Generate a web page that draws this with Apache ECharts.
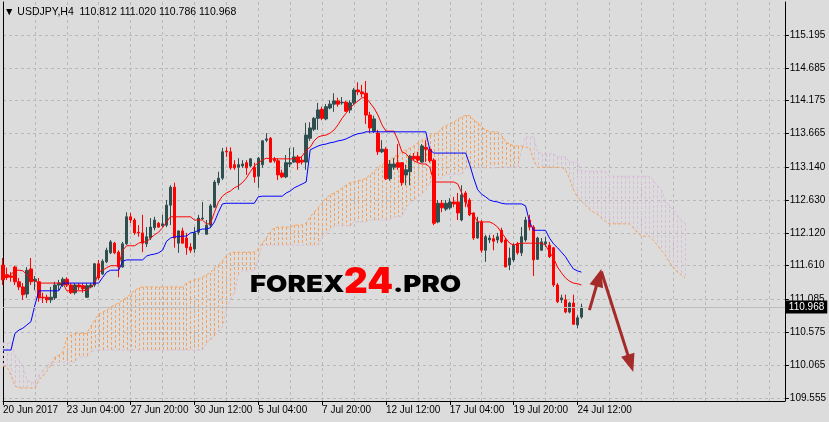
<!DOCTYPE html>
<html>
<head>
<meta charset="utf-8">
<script src="https://cdn.jsdelivr.net/npm/echarts@6.0.0/dist/echarts.min.js"></script>
<style>
html,body{margin:0;padding:0;background:#dcdcdc;overflow:hidden;}
#chart{width:829px;height:422px;}
</style>
</head>
<body>
<div id="chart"></div>
<script>
// ---------------- DATA ----------------
const symbolTitle = 'USDJPY,H4';
const lastOHLC = [110.812, 111.020, 110.786, 110.968]; // O H L C of last bar

const xTickIndex = [0, 16, 32, 48, 64, 80, 96, 112, 128, 144];
const xTickLabels = ['20 Jun 2017', '23 Jun 04:00', '27 Jun 20:00', '30 Jun 12:00', '5 Jul 04:00',
  '7 Jul 20:00', '12 Jul 12:00', '17 Jul 04:00', '19 Jul 20:00', '24 Jul 12:00'];

const yTickValues = [109.555, 110.065, 110.575, 111.085, 111.610, 112.120, 112.630, 113.140,
  113.665, 114.175, 114.685, 115.195];

const openP = [111.62,111.47,111.45,111.59,111.36,111.28,111.17,111.56,111.37,111.36,
 111.12,111.12,111.08,111.11,111.31,111.31,111.40,111.31,111.19,111.31,
 111.30,111.12,111.28,111.31,111.64,111.48,111.67,111.81,111.96,111.82,
 111.59,111.95,112.37,112.32,112.13,112.12,111.95,112.04,112.20,112.27,
 112.23,112.24,112.55,112.83,111.96,112.15,112.04,111.90,111.87,112.13,
 112.34,112.10,112.24,112.52,112.90,112.97,113.39,113.38,113.18,113.14,
 113.16,113.21,113.16,113.14,113.00,113.18,113.56,113.59,113.27,113.24,
 113.05,112.99,113.19,113.22,113.30,113.25,113.22,113.59,113.73,113.90,
 114.04,113.89,114.06,114.12,114.17,114.14,114.15,114.03,114.14,114.34,
 114.31,114.29,113.95,113.70,113.67,113.38,113.42,112.96,113.14,113.21,
 113.21,113.02,113.07,113.31,113.31,113.22,113.45,113.42,113.25,112.29,
 112.58,112.49,112.51,112.60,112.60,112.32,112.74,112.63,112.43,112.04,
 112.29,111.85,112.01,112.03,112.01,112.16,112.01,111.62,111.70,111.95,
 111.81,112.01,112.32,112.21,111.71,111.85,111.95,111.93,111.89,111.31,
 111.08,111.08,110.89,111.03,110.69,110.812];

const closeP = [111.39,111.43,111.43,111.36,111.28,111.16,111.54,111.36,111.40,111.11,
 111.11,111.08,111.12,111.31,111.34,111.40,111.31,111.19,111.31,111.28,
 111.25,111.30,111.31,111.64,111.42,111.68,111.85,111.98,111.81,111.59,
 111.95,112.37,112.32,112.12,112.12,111.96,112.06,112.21,112.32,112.21,
 112.26,112.55,112.83,112.04,112.15,111.96,111.89,111.85,112.12,112.35,
 112.35,112.24,112.54,112.91,112.97,113.38,113.38,113.13,113.13,113.18,
 113.19,113.13,113.27,112.99,113.28,113.55,113.58,113.22,113.24,113.02,
 112.99,113.21,113.21,113.30,113.21,113.22,113.64,113.75,113.90,114.03,
 113.90,114.08,114.12,114.17,114.12,114.15,114.01,114.14,114.34,114.31,
 114.28,113.95,113.75,113.89,113.38,113.42,112.96,113.19,113.19,113.14,
 112.90,113.10,113.31,113.27,113.25,113.47,113.42,113.24,112.27,112.58,
 112.51,112.58,112.60,112.57,112.43,112.71,112.60,112.40,112.04,112.29,
 111.85,112.06,112.04,111.99,112.06,111.98,111.59,111.73,111.93,111.81,
 112.06,112.32,112.21,111.70,112.04,111.98,111.98,111.75,111.31,111.05,
 111.11,110.89,111.03,110.70,110.80,110.968];

const lowP = [111.31,111.39,111.36,111.31,111.23,111.08,111.11,111.31,111.23,111.05,
 111.03,111.03,111.03,111.08,111.23,111.28,111.28,111.17,111.16,111.23,
 111.19,111.11,111.26,111.28,111.39,111.47,111.65,111.79,111.79,111.43,
 111.58,111.93,112.27,112.09,112.06,111.82,111.90,112.01,112.16,112.20,
 112.21,112.21,112.24,111.89,111.81,111.96,111.78,111.81,111.81,112.09,
 112.32,112.09,112.20,112.51,112.86,112.94,113.30,113.10,113.10,112.79,
 113.13,113.02,113.14,112.90,112.82,113.13,113.53,113.21,113.21,112.94,
 112.97,112.97,113.14,113.21,113.10,113.18,113.10,113.55,113.70,113.72,
 113.87,113.87,114.04,114.00,114.08,114.11,114.00,113.98,114.11,114.26,
 114.23,113.81,113.67,113.67,113.33,113.36,112.94,112.93,113.10,113.10,
 112.85,112.86,112.86,113.24,113.22,113.21,113.22,113.21,112.24,112.27,
 112.44,112.46,112.48,112.52,112.32,112.30,112.52,112.38,112.01,112.03,
 111.81,111.67,111.96,111.85,111.96,111.96,111.59,111.54,111.67,111.78,
 111.76,111.98,112.16,111.45,111.70,111.85,111.90,111.73,111.28,111.03,
 111.03,110.87,110.87,110.69,110.64,110.786];

const highP = [111.73,111.58,111.51,111.61,111.42,111.34,111.59,111.73,111.45,111.42,
 111.19,111.16,111.28,111.36,111.39,111.43,111.43,111.34,111.34,111.34,
 111.34,111.34,111.34,111.65,111.70,111.71,111.89,112.01,111.98,111.85,
 111.98,112.44,112.43,112.35,112.24,112.40,112.21,112.35,112.37,112.29,
 112.40,112.63,112.86,112.90,112.16,112.20,112.12,111.96,112.21,112.40,
 112.60,112.32,112.57,112.94,113.07,113.44,113.45,113.45,113.25,113.28,
 113.25,113.25,113.28,113.21,113.30,113.56,113.67,113.61,113.30,113.28,
 113.10,113.33,113.44,113.45,113.33,113.31,113.83,113.84,113.92,114.14,
 114.08,114.12,114.18,114.29,114.22,114.23,114.17,114.18,114.37,114.46,
 114.42,114.48,114.00,113.94,113.72,113.56,113.45,113.25,113.28,113.50,
 113.22,113.18,113.33,113.36,113.38,113.50,113.56,113.45,113.28,112.63,
 112.63,112.63,112.66,112.68,112.74,112.86,112.77,112.66,112.44,112.37,
 112.32,112.09,112.09,112.09,112.12,112.20,112.04,111.89,111.96,111.98,
 112.21,112.37,112.40,112.24,112.06,112.04,112.06,111.98,111.90,111.34,
 111.16,111.16,111.05,111.16,110.84,111.020];

// Ichimoku Tenkan-sen (red)
const tenkan = [111.42,111.43,111.47,111.54,111.54,111.53,111.47,111.40,111.37,111.34,
 111.34,111.34,111.34,111.34,111.34,111.34,111.22,111.22,111.22,111.22,
 111.22,111.23,111.28,111.33,111.51,111.54,111.58,111.61,111.61,111.61,
 111.85,111.92,111.92,111.92,111.96,111.98,111.98,112.04,112.09,112.13,
 112.20,112.29,112.37,112.37,112.37,112.37,112.37,112.37,112.32,112.32,
 112.32,112.26,112.26,112.44,112.60,112.69,112.74,112.77,112.82,112.85,
 112.90,112.97,113.07,113.16,113.21,113.25,113.28,113.27,113.27,113.27,
 113.27,113.27,113.27,113.27,113.27,113.31,113.41,113.45,113.55,113.61,
 113.63,113.64,113.67,113.72,113.80,113.90,113.98,114.06,114.12,114.17,
 114.22,114.22,114.14,114.06,113.95,113.80,113.70,113.70,113.70,113.56,
 113.38,113.35,113.28,113.24,113.21,113.19,113.19,113.14,112.91,112.91,
 112.91,112.91,112.91,112.91,112.88,112.74,112.63,112.44,112.40,112.29,
 112.29,112.29,112.29,112.26,112.21,112.12,112.04,111.96,111.93,111.95,
 111.96,111.96,111.96,111.96,111.96,111.96,111.93,111.82,111.73,111.59,
 111.50,111.42,111.37,111.34,111.33,111.31];

// Ichimoku Kijun-sen (blue)
const kijun = [110.30,110.30,110.30,110.56,110.61,110.64,110.69,110.74,111.00,111.22,
 111.22,111.22,111.22,111.22,111.22,111.34,111.34,111.34,111.34,111.34,
 111.34,111.34,111.34,111.34,111.34,111.43,111.51,111.54,111.54,111.54,
 111.68,111.70,111.70,111.70,111.70,111.70,111.76,111.78,111.79,111.81,
 111.85,111.99,112.04,112.06,112.06,112.07,112.07,112.12,112.13,112.16,
 112.18,112.18,112.20,112.29,112.44,112.57,112.58,112.58,112.58,112.58,
 112.58,112.58,112.58,112.58,112.68,112.69,112.69,112.69,112.69,112.69,
 112.69,112.74,112.77,112.82,112.85,112.88,112.91,113.41,113.44,113.47,
 113.49,113.50,113.52,113.53,113.55,113.56,113.58,113.61,113.64,113.66,
 113.67,113.69,113.69,113.69,113.69,113.69,113.69,113.69,113.69,113.69,
 113.69,113.69,113.69,113.69,113.69,113.69,113.69,113.41,113.36,113.36,
 113.36,113.36,113.36,113.36,113.36,113.36,113.36,113.18,112.97,112.79,
 112.72,112.68,112.63,112.61,112.60,112.58,112.57,112.57,112.57,112.57,
 112.57,112.54,112.29,112.16,112.16,112.16,112.16,112.04,111.95,111.89,
 111.82,111.75,111.65,111.56,111.53,111.51];

// Senkou Span A (sandy brown), drawn 26 bars ahead
const spanA = [110.05,110.04,109.91,109.74,109.71,109.71,109.71,109.71,109.71,109.83,
 109.90,109.97,110.07,110.19,110.22,110.27,110.49,110.53,110.56,110.56,
 110.56,110.56,110.67,110.77,110.86,110.89,110.92,110.97,111.00,111.03,
 111.08,111.12,111.17,111.23,111.26,111.28,111.28,111.28,111.28,111.28,
 111.28,111.28,111.28,111.28,111.28,111.28,111.34,111.37,111.39,111.40,
 111.43,111.47,111.50,111.58,111.62,111.68,111.76,111.81,111.82,111.82,
 111.82,111.82,111.82,111.82,111.87,111.96,112.04,112.13,112.20,112.21,
 112.21,112.21,112.21,112.24,112.24,112.24,112.27,112.37,112.44,112.51,
 112.58,112.66,112.71,112.74,112.77,112.82,112.86,112.90,112.91,112.93,
 112.94,112.97,113.02,113.07,113.13,113.18,113.22,113.25,113.30,113.33,
 113.38,113.41,113.44,113.47,113.52,113.56,113.59,113.63,113.66,113.67,
 113.75,113.78,113.81,113.84,113.89,113.92,113.95,113.94,113.87,113.83,
 113.76,113.72,113.69,113.69,113.69,113.63,113.53,113.50,113.47,113.47,
 113.47,113.45,113.45,113.25,113.14,113.14,113.14,113.14,113.14,113.14,
 113.14,113.10,112.97,112.79,112.68,112.61,112.55,112.49,112.44,112.41,
 112.35,112.30,112.26,112.26,112.26,112.26,112.26,112.26,112.20,112.13,
 112.07,112.07,112.07,112.01,111.93,111.85,111.78,111.67,111.59,111.51,
 111.47,111.42];

// Senkou Span B (thistle), drawn 26 bars ahead
const spanB = [110.41,110.41,110.41,110.22,110.14,110.07,109.83,109.80,109.79,109.91,
 109.99,110.05,110.10,110.11,110.11,110.11,110.11,110.11,110.11,110.19,
 110.19,110.19,110.27,110.30,110.30,110.30,110.30,110.30,110.30,110.30,
 110.30,110.30,110.30,110.30,110.30,110.30,110.30,110.30,110.30,110.30,
 110.30,110.30,110.30,110.30,110.30,110.30,110.30,110.30,110.30,110.30,
 110.30,110.41,110.46,110.52,110.58,110.66,110.92,111.08,111.19,111.47,
 111.53,111.53,111.53,111.53,111.73,111.93,111.93,111.93,111.93,111.93,
 111.93,111.93,111.93,111.93,111.93,111.93,111.93,111.93,111.93,111.93,
 112.06,112.12,112.16,112.23,112.23,112.23,112.23,112.23,112.29,112.29,
 112.29,112.29,112.32,112.32,112.32,112.32,112.32,112.32,112.37,112.37,
 112.37,112.52,112.58,112.63,112.68,112.72,112.79,112.90,112.97,112.97,
 112.97,113.03,113.03,113.03,113.03,113.03,113.13,113.13,113.13,113.13,
 113.13,113.13,113.13,113.13,113.13,113.14,113.14,113.14,113.14,113.14,
 113.41,113.61,113.61,113.61,113.38,113.35,113.35,113.35,113.35,113.30,
 113.30,113.30,113.22,113.22,113.22,113.08,113.08,113.08,113.08,113.08,
 113.08,113.08,113.00,113.00,113.00,113.00,113.00,113.00,113.00,113.00,
 113.00,113.00,113.00,112.94,112.86,112.79,112.63,112.55,112.48,112.40,
 112.32,112.27];

// forecast arrows: [fromBar, fromPrice, toBar, toPrice]
const arrows = [[147, 110.92, 150, 111.56], [150, 111.52, 158, 109.96]];

// ---------------- CHART ----------------
const FONT = "'Liberation Sans', Arial, sans-serif";
const N_SLOTS = 197;
const cats = Array.from({length: N_SLOTS}, (_, i) => String(i));
const labelMap = {};
xTickIndex.forEach((ix, k) => { labelMap[ix] = xTickLabels[k]; });
const isTick = (i) => Object.prototype.hasOwnProperty.call(labelMap, i);

const candles = openP.map((o, i) => [o, closeP[i], lowP[i], highP[i]]);
const cloud = spanA.map((a, i) => [i, a, spanB[i]]);

const yMin = 109.508, yMax = 115.707;
const gridDash = {color: '#b9b9b9', type: [3, 3], width: 1};

const chart = echarts.init(document.getElementById('chart'));
chart.setOption({
  animation: false,
  backgroundColor: '#dcdcdc',
  grid: {left: 3, right: 42, top: 2, bottom: 21},
  xAxis: {
    type: 'category', data: cats, boundaryGap: false,
    axisLine: {show: true, lineStyle: {color: '#000', width: 1}},
    axisTick: {show: true, interval: (i) => isTick(i), length: 4, lineStyle: {color: '#000'}},
    axisLabel: {
      show: true, interval: (i) => isTick(i), formatter: (v, i) => labelMap[i] || '',
      align: 'left', color: '#000', fontSize: 10, fontFamily: FONT, margin: 4
    },
    splitLine: {show: true, interval: (i) => i > 0 && i % 8 === 0, lineStyle: gridDash}
  },
  yAxis: [{
    type: 'value', position: 'right', min: yMin, max: yMax,
    axisLine: {show: true, lineStyle: {color: '#000'}},
    axisTick: {show: true, customValues: yTickValues, length: 4, lineStyle: {color: '#000'}},
    axisLabel: {show: true, customValues: yTickValues, formatter: (v) => v.toFixed(3),
      color: '#000', fontSize: 10, fontFamily: FONT, margin: 5},
    splitLine: {show: true, lineStyle: gridDash}
  }, {
    type: 'value', position: 'left', min: yMin, max: yMax,
    axisLine: {show: true, lineStyle: {color: '#000'}},
    axisTick: {show: false}, axisLabel: {show: false}, splitLine: {show: false}
  }],
  series: [
    {
      // Kumo hatching: one dotted vertical stroke per bar between Span A and Span B
      name: 'cloud', type: 'custom', data: cloud, z: 1, silent: true,
      encode: {x: 0, y: [1, 2]},
      renderItem: function (params, api) {
        const k = params.dataIndex;
        const a = spanA[k], b = spanB[k];
        const pa = api.coord([k, a]), pb = api.coord([k, b]);
        const x = Math.round(pa[0]);
        const y0 = Math.round(Math.min(pa[1], pb[1]));
        const y1 = Math.round(Math.max(pa[1], pb[1]));
        const color = a >= b ? '#F4A460' : '#D8BFD8';
        const kids = [];
        for (let y = y0; y < y1; y += 5) {
          kids.push({type: 'rect', shape: {x: x, y: y, width: 1, height: Math.min(3, y1 - y)},
            style: {fill: color}});
        }
        return {type: 'group', children: kids};
      }
    },
    {name: 'spanA', type: 'line', data: spanA, showSymbol: false, z: 2, silent: true,
      lineStyle: {color: '#F4A460', width: 1, type: [3, 2]}},
    {name: 'spanB', type: 'line', data: spanB, showSymbol: false, z: 2, silent: true,
      lineStyle: {color: '#D8BFD8', width: 1, type: [3, 2]}},
    {
      name: 'USDJPY', type: 'candlestick', data: candles, barWidth: 3, z: 3,
      itemStyle: {color: '#2F4F4F', color0: '#FF0000', borderColor: '#2F4F4F', borderColor0: '#FF0000', borderWidth: 1},
      markLine: {
        silent: true, symbol: 'none', animation: false,
        data: [{yAxis: lastOHLC[3]}],
        lineStyle: {color: '#bdbdbd', type: 'solid', width: 1},
        label: {show: true, position: 'end', distance: 1, formatter: lastOHLC[3].toFixed(3),
          backgroundColor: '#000', color: '#fff', fontSize: 10, fontFamily: FONT, padding: [2, 3, 1, 3]}
      }
    },
    {name: 'tenkan', type: 'line', data: tenkan, showSymbol: false, z: 4, silent: true,
      lineStyle: {color: '#FF0000', width: 1}},
    {name: 'kijun', type: 'line', data: kijun, showSymbol: false, z: 4, silent: true,
      lineStyle: {color: '#0000FF', width: 1}},
    {
      name: 'arrows', type: 'custom', data: arrows, z: 6, silent: true,
      encode: {x: [0, 2], y: [1, 3]},
      renderItem: function (params, api) {
        const r = arrows[params.dataIndex];
        const p0 = api.coord([r[0], r[1]]);
        const p1 = api.coord([r[2], r[3]]);
        const dx = p1[0] - p0[0], dy = p1[1] - p0[1];
        const len = Math.hypot(dx, dy), ux = dx / len, uy = dy / len;
        const hl = 18, hw = 7;
        const bx = p1[0] - ux * hl, by = p1[1] - uy * hl;
        return {type: 'group', children: [
          {type: 'line', shape: {x1: p0[0], y1: p0[1], x2: bx + ux * 2, y2: by + uy * 2},
            style: {stroke: '#A52A2A', lineWidth: 3}},
          {type: 'polygon', shape: {points: [[p1[0], p1[1]], [bx - uy * hw, by + ux * hw], [bx + uy * hw, by - ux * hw]]},
            style: {fill: '#A52A2A'}}
        ]};
      }
    }
  ],
  graphic: [
    {type: 'text', x: 4, y: 12, z: 10, style: {
      text: '\u25BC ' + symbolTitle + '  ' + [lastOHLC[0], lastOHLC[1], lastOHLC[2], lastOHLC[3]].map(v => v.toFixed(3)).join(' '),
      font: "10.5px 'Liberation Sans', Arial, sans-serif", fill: '#000', textVerticalAlign: 'middle'}},
    {type: 'text', x: 250, y: 285, z: 10, scaleX: 1.2, style: {text: 'FOREX',
      font: "900 23px Inter, 'DejaVu Sans', sans-serif", fill: '#000', textVerticalAlign: 'middle'}},
    {type: 'text', x: 344, y: 282, z: 10, scaleX: 1.05, style: {text: '24',
      font: "900 35px Inter, 'DejaVu Sans', sans-serif", fill: '#FF0000', textVerticalAlign: 'middle'}},
    {type: 'text', x: 393, y: 285, z: 10, scaleX: 1.2, style: {text: '.PRO',
      font: "900 23px Inter, 'DejaVu Sans', sans-serif", fill: '#000', textVerticalAlign: 'middle'}}
  ]
});
</script>
</body>
</html>
